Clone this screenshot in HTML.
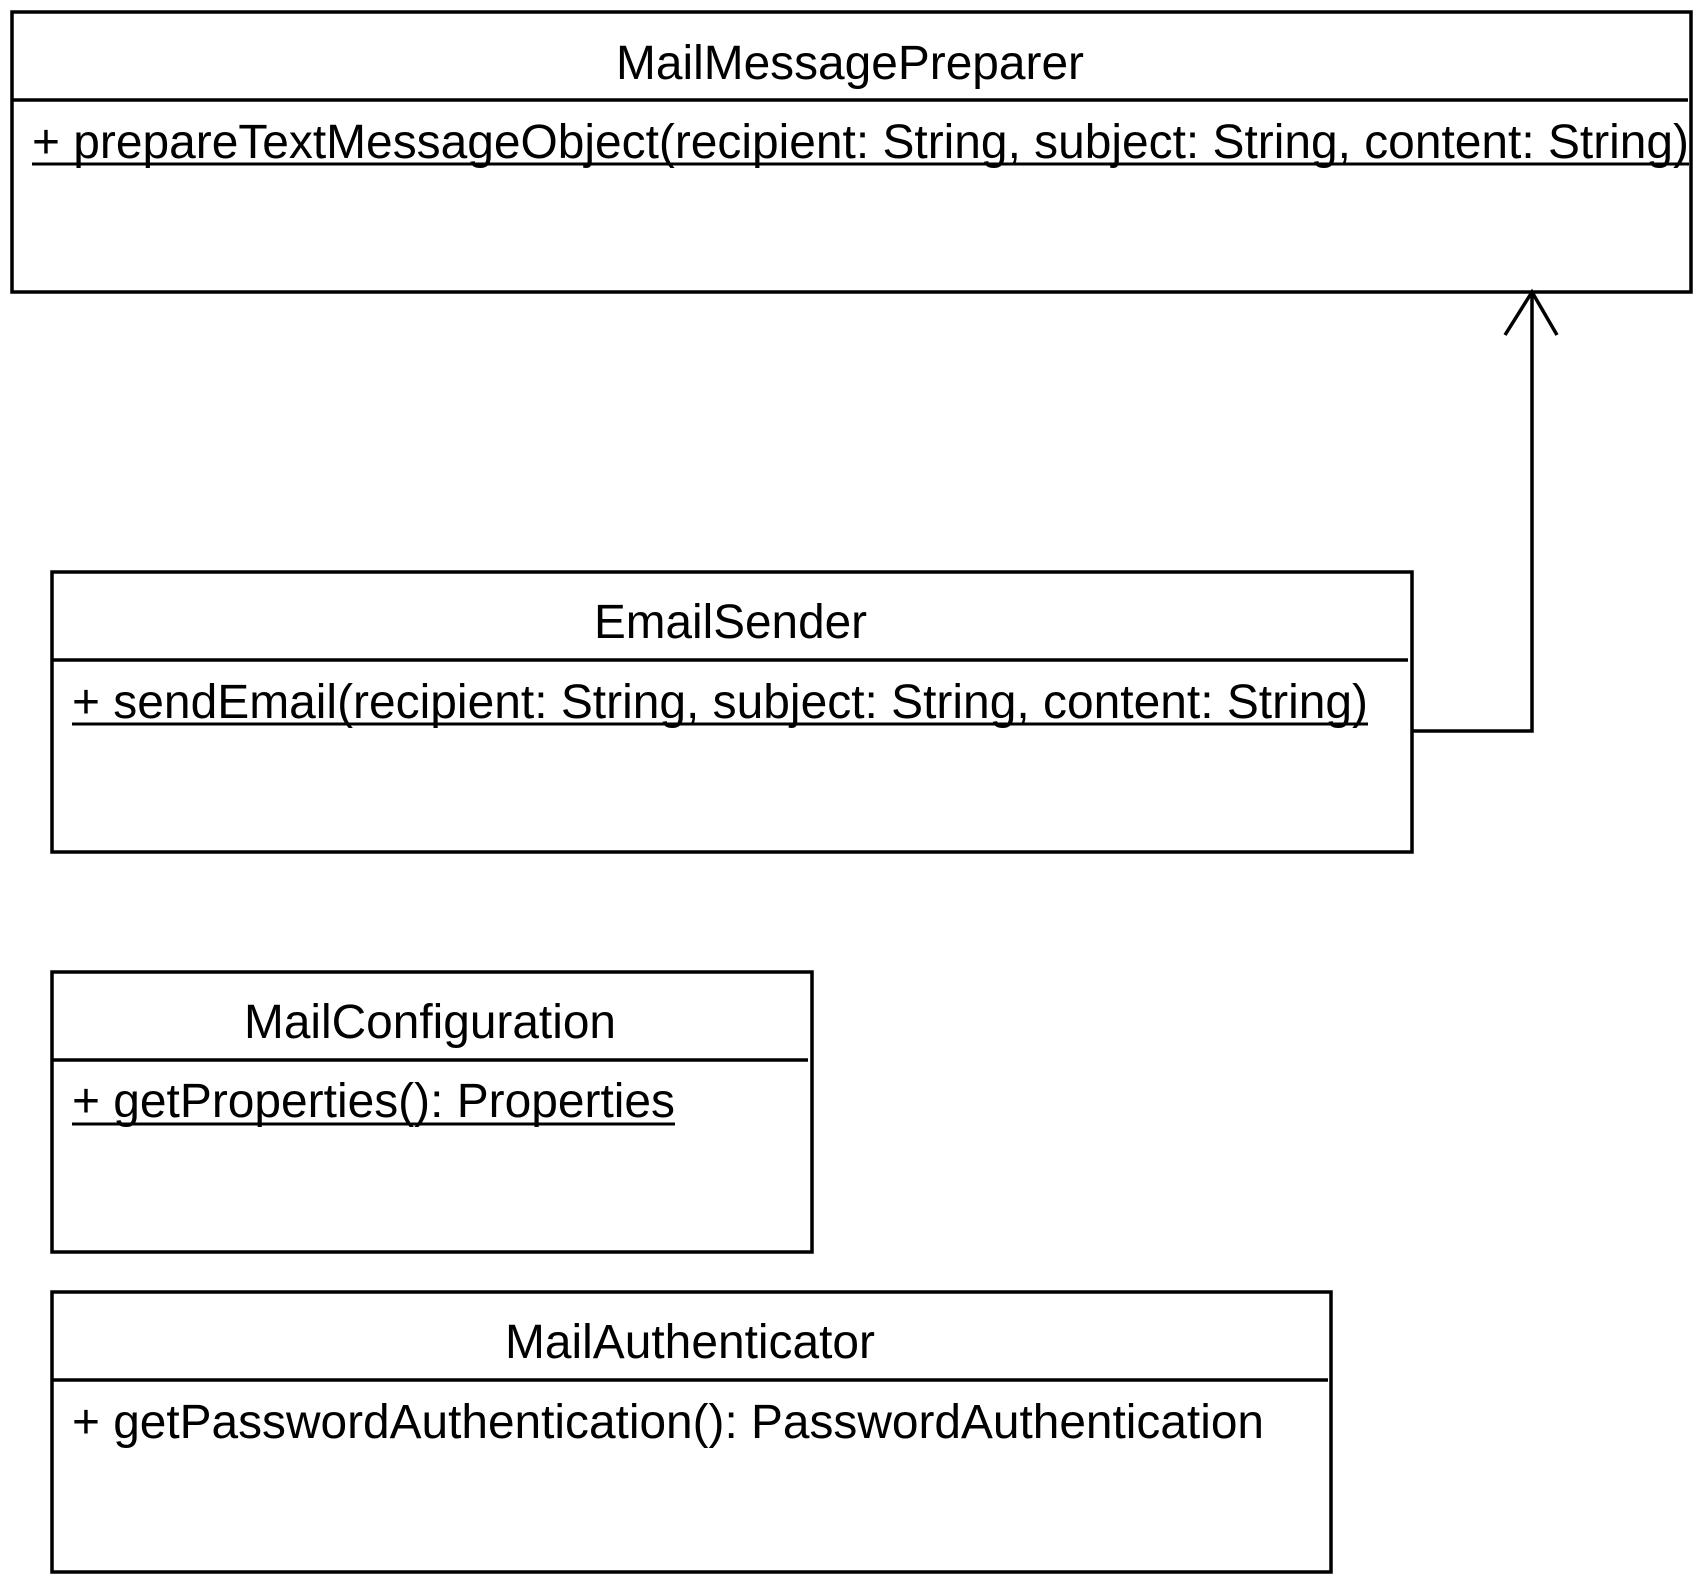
<!DOCTYPE html>
<html><head><meta charset="utf-8"><style>
html,body{margin:0;padding:0;background:#fff}
svg{display:block}
text{font-family:"Liberation Sans",Arial,sans-serif;font-size:48px;fill:#000}
</style></head><body>
<svg width="1700" height="1580" viewBox="0 0 1700 1580" xmlns="http://www.w3.org/2000/svg">
<g fill="none" stroke="#000" stroke-width="3.5">
<rect x="12" y="12" width="1679" height="280"/>
<line x1="12" y1="100" x2="1688" y2="100"/>
<rect x="52" y="572" width="1360" height="280"/>
<line x1="52" y1="660" x2="1408" y2="660"/>
<rect x="52" y="972" width="760" height="280"/>
<line x1="52" y1="1060" x2="808" y2="1060"/>
<rect x="52" y="1292" width="1279" height="280"/>
<line x1="52" y1="1380" x2="1328" y2="1380"/>
<polyline points="1412,731 1532,731 1532,292"/>
<polyline points="1505,335 1532,292 1557,335"/>
</g>
<g stroke="#000" stroke-width="3">
<line x1="32" y1="164" x2="1689" y2="164"/>
<line x1="72" y1="724" x2="1368" y2="724"/>
<line x1="72" y1="1124" x2="675" y2="1124"/>
</g>
<text x="616" y="79" textLength="468" lengthAdjust="spacingAndGlyphs">MailMessagePreparer</text>
<text x="32" y="158" textLength="1657" lengthAdjust="spacingAndGlyphs">+ prepareTextMessageObject(recipient: String, subject: String, content: String)</text>
<text x="594" y="638" textLength="273" lengthAdjust="spacingAndGlyphs">EmailSender</text>
<text x="72" y="718" textLength="1296" lengthAdjust="spacingAndGlyphs">+ sendEmail(recipient: String, subject: String, content: String)</text>
<text x="244" y="1038" textLength="372" lengthAdjust="spacingAndGlyphs">MailConfiguration</text>
<text x="72" y="1117" textLength="603" lengthAdjust="spacingAndGlyphs">+ getProperties(): Properties</text>
<text x="505" y="1358" textLength="370" lengthAdjust="spacingAndGlyphs">MailAuthenticator</text>
<text x="72" y="1438" textLength="1192" lengthAdjust="spacingAndGlyphs">+ getPasswordAuthentication(): PasswordAuthentication</text>
</svg>
</body></html>
